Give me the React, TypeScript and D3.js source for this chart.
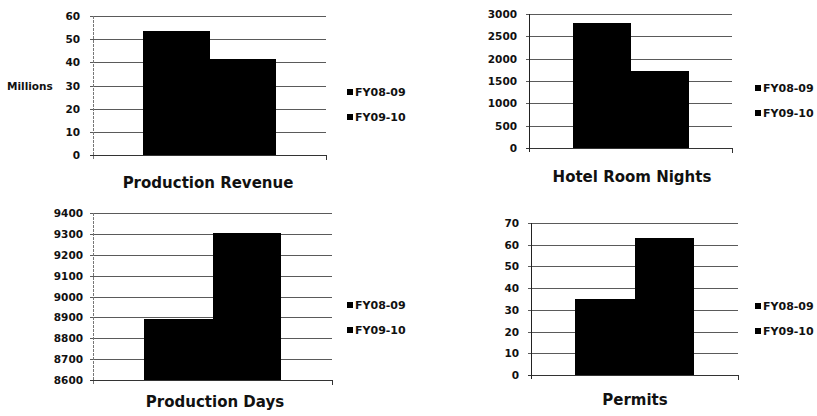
import React from "react";
import * as d3 from "d3";

// Series shown in every panel
const seriesNames = ["FY08-09", "FY09-10"];
const seriesColors = ["#000000", "#000000"];

// Panel titles
const revenueTitle = "Production Revenue";
const hotelTitle = "Hotel Room Nights";
const daysTitle = "Production Days";
const permitsTitle = "Permits";

// Values per series (FY08-09, FY09-10)
const revenueValues = [53.7, 41.6];
const hotelValues = [2790, 1730];
const daysValues = [8890, 9305];
const permitsValues = [35, 63];

// Y tick labels
const revenueTicks = [0, 10, 20, 30, 40, 50, 60];
const hotelTicks = [0, 500, 1000, 1500, 2000, 2500, 3000];
const daysTicks = [8600, 8700, 8800, 8900, 9000, 9100, 9200, 9300, 9400];
const permitsTicks = [0, 10, 20, 30, 40, 50, 60, 70];

const revenueUnit = "Millions";

const FONT = "'DejaVu Sans', Verdana, sans-serif";

type Box = { left: number; right: number; top: number; bottom: number };

type PanelProps = {
  title: string;
  values: number[];
  ticks: number[];
  box: Box;
  labelGap: number;
  titlePos: [number, number];
  legendPos: [number, number];
  unit?: string;
  unitPos?: [number, number];
  axisSolid: boolean;
};

function Panel(p: PanelProps) {
  const { box } = p;
  const y = d3
    .scaleLinear()
    .domain([p.ticks[0], p.ticks[p.ticks.length - 1]])
    .range([box.bottom, box.top]);
  const xCat = d3.scaleBand<string>().domain([""]).range([box.left, box.right]);
  const xSeries = d3
    .scaleBand<string>()
    .domain(seriesNames)
    .range([xCat("")!, xCat("")! + xCat.bandwidth()])
    .paddingInner(0)
    .paddingOuter(0.75);

  return (
    <g>
      {/* horizontal gridlines */}
      {p.ticks.map((t) => (
        <line
          key={"g" + t}
          x1={box.left - 3}
          x2={box.right}
          y1={Math.round(y(t)) + 0.5}
          y2={Math.round(y(t)) + 0.5}
          stroke={t === p.ticks[0] ? "#333" : "#5a5a5a"}
          strokeWidth={1}
        />
      ))}
      {/* y axis */}
      <line
        x1={box.left + 0.5}
        x2={box.left + 0.5}
        y1={box.top}
        y2={box.bottom + 4}
        stroke={p.axisSolid ? "#222" : "#777"}
        strokeWidth={1}
        strokeDasharray={p.axisSolid ? undefined : "3,1"}
      />
      {/* x axis end tick */}
      <line x1={box.right + 0.5} x2={box.right + 0.5} y1={box.bottom} y2={box.bottom + 5} stroke="#333" strokeWidth={1} />
      {/* bars */}
      {p.values.map((v, i) => (
        <rect
          key={"b" + i}
          x={xSeries(seriesNames[i])!}
          y={y(v)}
          width={xSeries.bandwidth()}
          height={y(p.ticks[0]) - y(v)}
          fill={seriesColors[i]}
          shapeRendering="crispEdges"
        />
      ))}
      {/* tick labels */}
      {p.ticks.map((t) => (
        <text
          key={"t" + t}
          x={box.left - p.labelGap}
          y={y(t)}
          textAnchor="end"
          dominantBaseline="central"
          fontFamily={FONT}
          fontWeight="bold"
          fontSize={10.5}
          fill="#111"
        >
          {t}
        </text>
      ))}
      {p.unit && p.unitPos && (
        <text
          x={p.unitPos[0]}
          y={p.unitPos[1]}
          dominantBaseline="central"
          fontFamily={FONT}
          fontWeight="bold"
          fontSize={10.5}
          fill="#111"
        >
          {p.unit}
        </text>
      )}
      {/* legend */}
      {seriesNames.map((s, i) => (
        <g key={"l" + s} transform={`translate(${p.legendPos[0]},${p.legendPos[1] + i * 25})`}>
          <rect x={0} y={-3} width={6} height={6} fill={seriesColors[i]} />
          <text x={8} y={0} dominantBaseline="central" fontFamily={FONT} fontWeight="bold" fontSize={11} fill="#111">
            {s}
          </text>
        </g>
      ))}
      {/* title */}
      <text
        x={p.titlePos[0]}
        y={p.titlePos[1]}
        textAnchor="middle"
        dominantBaseline="central"
        fontFamily={FONT}
        fontWeight="bold"
        fontSize={15}
        fill="#111"
      >
        {p.title}
      </text>
    </g>
  );
}

export default function App() {
  return (
    <svg
      width={817}
      height={416}
      viewBox="0 0 817 416"
      style={{ position: "fixed", left: 0, top: 0, background: "#fff" }}
    >
      <rect width={817} height={416} fill="#fff" />
      <Panel
        title={revenueTitle}
        values={revenueValues}
        ticks={revenueTicks}
        box={{ left: 93, right: 326, top: 16, bottom: 155 }}
        labelGap={13}
        titlePos={[208, 183]}
        legendPos={[347, 92]}
        unit={revenueUnit}
        unitPos={[7, 86]}
        axisSolid={false}
      />
      <Panel
        title={hotelTitle}
        values={hotelValues}
        ticks={hotelTicks}
        box={{ left: 529, right: 732, top: 14, bottom: 148 }}
        labelGap={12}
        titlePos={[632, 177]}
        legendPos={[755, 88]}
        axisSolid={true}
      />
      <Panel
        title={daysTitle}
        values={daysValues}
        ticks={daysTicks}
        box={{ left: 93, right: 332, top: 213, bottom: 380 }}
        labelGap={10}
        titlePos={[215, 402]}
        legendPos={[347, 305]}
        axisSolid={false}
      />
      <Panel
        title={permitsTitle}
        values={permitsValues}
        ticks={permitsTicks}
        box={{ left: 531, right: 738, top: 223, bottom: 375 }}
        labelGap={12}
        titlePos={[635, 400]}
        legendPos={[755, 306]}
        axisSolid={true}
      />
    </svg>
  );
}
